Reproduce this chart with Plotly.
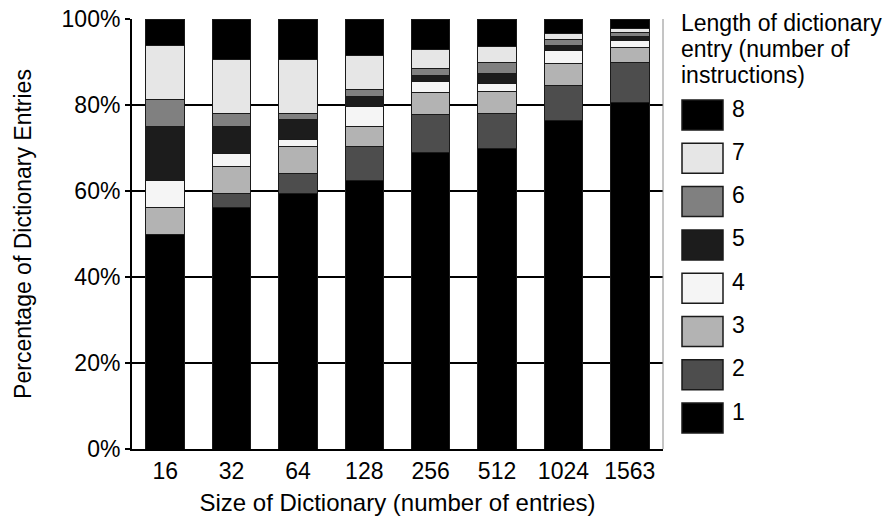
import plotly.graph_objects as go

# Dictionary sizes (x categories)
sizes = ["16", "32", "64", "128", "256", "512", "1024", "1563"]

# Share of dictionary entries (%) by entry length (number of instructions)
len1 = [50.0, 56.25, 59.375, 62.5, 69.0, 70.0, 76.3, 80.5]
len2 = [0.0, 3.125, 4.6875, 7.8125, 8.9, 8.1, 8.2, 9.4]
len3 = [6.25, 6.25, 6.25, 4.6875, 5.0, 5.1, 5.2, 3.4]
len4 = [6.25, 3.125, 1.5625, 4.6875, 2.6, 1.9, 2.9, 1.7]
len5 = [12.5, 6.25, 4.6875, 2.34375, 1.3, 2.3, 1.2, 1.0]
len6 = [6.25, 3.125, 1.5625, 1.5625, 1.6, 2.6, 1.4, 0.8]
len7 = [12.5, 12.5, 12.5, 7.8125, 4.6, 3.5, 1.5, 1.0]
len8 = [6.25, 9.375, 9.375, 8.59375, 7.0, 6.5, 3.3, 2.2]

series_names = ["1", "2", "3", "4", "5", "6", "7", "8"]
series_values = [len1, len2, len3, len4, len5, len6, len7, len8]
series_colors = ["#000000", "#4d4d4d", "#b3b3b3", "#f5f5f5",
                 "#1c1c1c", "#808080", "#e6e6e6", "#000000"]

y_ticks = [0, 20, 40, 60, 80, 100]
y_tick_labels = [f"{v}%" for v in y_ticks]

legend_title_lines = ["Length of dictionary", "entry (number of", "instructions)"]

FONT = "Liberation Sans, Arial, sans-serif"
FS = 23
FS_TITLE = 24

W, H = 894, 518
ML, MR, MT, MB = 132, 231, 19, 69
PW, PH = W - ML - MR, H - MT - MB

fig = go.Figure()
for name, vals, col in zip(series_names, series_values, series_colors):
    fig.add_trace(go.Bar(
        x=sizes, y=vals, name=name,
        marker=dict(color=col, line=dict(color="#1a1a1a", width=1)),
        showlegend=False,
    ))


def px_x(px):
    return (px - ML) / PW


def px_y(py):
    return (H - MB - py) / PH


# Hand-built legend: large swatches, 8 at the top down to 1 at the bottom
shapes = []
annotations = []
sw_left, sw_right = 682, 723
sw_top0, sw_h, sw_step = 100, 30, 43.3
for i, (name, col) in enumerate(reversed(list(zip(series_names, series_colors)))):
    top = sw_top0 + i * sw_step
    shapes.append(dict(
        type="rect", xref="paper", yref="paper",
        x0=px_x(sw_left), x1=px_x(sw_right),
        y0=px_y(top + sw_h), y1=px_y(top),
        fillcolor=col, line=dict(color="#1a1a1a", width=1.5),
    ))
    annotations.append(dict(
        xref="paper", yref="paper", x=px_x(730), y=px_y(top + 8.5),
        xanchor="left", yanchor="middle", text=name, showarrow=False,
        font=dict(family=FONT, size=FS, color="black"),
    ))

# Legend heading, one annotation per line for tight line spacing
for j, line in enumerate(legend_title_lines):
    annotations.append(dict(
        xref="paper", yref="paper", x=px_x(679), y=px_y(23 + 26 * j),
        xanchor="left", yanchor="middle", showarrow=False, text=line,
        font=dict(family=FONT, size=FS, color="black"),
    ))

# Light right-hand frame edge
shapes.append(dict(type="line", xref="paper", yref="paper",
                   x0=1, x1=1, y0=0, y1=1,
                   line=dict(color="#8a8a8a", width=1)))

fig.update_layout(
    width=W, height=H,
    margin=dict(l=ML, r=MR, t=MT, b=MB, pad=0),
    barmode="stack", bargap=0.42,
    plot_bgcolor="white", paper_bgcolor="white",
    font=dict(family=FONT, size=FS, color="black"),
    shapes=shapes, annotations=annotations,
    xaxis=dict(
        type="category", showline=True, linecolor="black", linewidth=2,
        ticks="", showgrid=False, automargin=False,
        title=dict(text="Size of Dictionary (number of entries)",
                   font=dict(family=FONT, size=FS_TITLE), standoff=12),
        tickfont=dict(family=FONT, size=FS),
    ),
    yaxis=dict(
        range=[0, 100], tickvals=y_ticks, ticktext=y_tick_labels,
        showline=True, linecolor="black", linewidth=2,
        ticks="outside", ticklen=5, tickcolor="black", tickwidth=1.5,
        showgrid=True, gridcolor="black", gridwidth=1.5,
        zeroline=False, automargin=False,
        title=dict(text="Percentage of Dictionary Entries",
                   font=dict(family=FONT, size=FS), standoff=24),
        tickfont=dict(family=FONT, size=FS),
    ),
)

fig.write_html("out.html")
